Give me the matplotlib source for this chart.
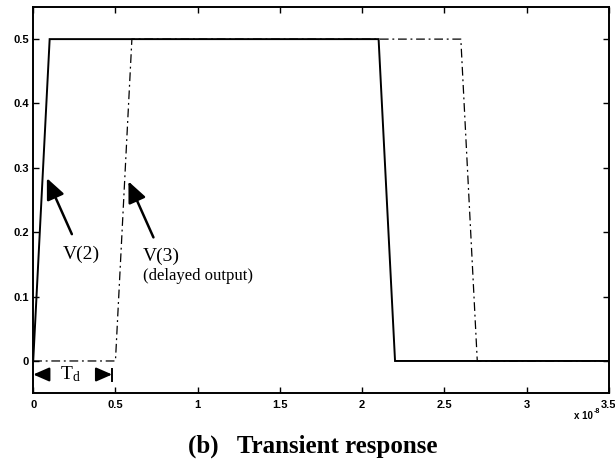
import matplotlib
matplotlib.use('Agg')
import matplotlib.pyplot as plt

plt.rcParams['mathtext.fontset'] = 'custom'
plt.rcParams['mathtext.rm'] = 'Liberation Serif'
plt.rcParams['mathtext.it'] = 'Liberation Serif:italic'

# time in units of 1e-8 s
t_v2 = [0.0, 0.1, 2.1, 2.2, 3.5]
v2 = [0.0, 0.5, 0.5, 0.0, 0.0]
t_v3 = [0.0, 0.5, 0.6, 2.6, 2.7, 3.5]
v3 = [0.0, 0.0, 0.5, 0.5, 0.0, 0.0]

x_ticks = [0, 0.5, 1, 1.5, 2, 2.5, 3, 3.5]
x_tick_labels = ['0', '0.5', '1', '1.5', '2', '2.5', '3', '3.5']
y_ticks = [0, 0.1, 0.2, 0.3, 0.4, 0.5]
y_tick_labels = ['0', '0.1', '0.2', '0.3', '0.4', '0.5']

serif = 'Liberation Serif'
sans = 'Liberation Sans'

fig = plt.figure(figsize=(6.15, 4.62), dpi=100)
ax = fig.add_axes([0.054, 0.149, 0.936, 0.836])

ax.plot(t_v2, v2, color='black', linewidth=1.4, solid_joinstyle='miter')
ax.plot(t_v3, v3, color='black', linewidth=0.9, linestyle=(0, (7, 3, 1.5, 3)))

ax.set_xlim(0, 3.5)
ax.set_ylim(-0.05, 0.55)
ax.set_xticks(x_ticks)
ax.set_xticklabels(x_tick_labels)
ax.set_yticks(y_ticks)
ax.set_yticklabels(y_tick_labels)
ax.tick_params(direction='in', length=4, width=1, top=True, right=True,
               labelsize=8)
ax.tick_params(axis='x', pad=5)
ax.tick_params(axis='y', pad=3)
for lab in ax.get_xticklabels() + ax.get_yticklabels():
    lab.set_fontfamily(sans)
    lab.set_fontweight('bold')
for sp in ax.spines.values():
    sp.set_linewidth(1.4)

ax.text(0.972, -0.058, 'x 10', transform=ax.transAxes, ha='right',
        va='center', fontsize=7, family=sans, fontweight='bold')
ax.text(0.974, -0.047, '-8', transform=ax.transAxes, ha='left',
        va='center', fontsize=5, family=sans, fontweight='bold')

arrow = dict(arrowstyle='-|>,head_length=0.9,head_width=0.4', color='black',
             linewidth=1.8, mutation_scale=14, shrinkA=0, shrinkB=0)

ax.annotate('', xy=(0.083, 0.284), xytext=(0.235, 0.197), arrowprops=arrow)
ax.annotate('', xy=(0.579, 0.279), xytext=(0.731, 0.192), arrowprops=arrow)

ax.text(0.18, 0.166, 'V(2)', family=serif, fontsize=14, ha='left', va='center')
ax.text(0.668, 0.163, 'V(3)', family=serif, fontsize=14, ha='left', va='center')
ax.text(0.668, 0.132, '(delayed output)', family=serif, fontsize=12,
        ha='left', va='center')

# T_d marker
small = dict(arrowstyle='-|>,head_length=0.8,head_width=0.35', color='black',
             linewidth=1.6, mutation_scale=12, shrinkA=0, shrinkB=0)
ax.annotate('', xy=(0.0, -0.021), xytext=(0.09, -0.021), arrowprops=small)
ax.annotate('', xy=(0.48, -0.021), xytext=(0.39, -0.021), arrowprops=small)
ax.plot([0.48, 0.48], [-0.012, -0.031], color='black', linewidth=1.4)
ax.text(0.225, -0.021, r'T$_{\rm d}$', family=serif, fontsize=14,
        ha='center', va='center')

fig.text(0.509, 0.035, '(b)   Transient response', family=serif,
         fontsize=18, fontweight='bold', ha='center', va='center')

fig.savefig('out.png', dpi=100)
